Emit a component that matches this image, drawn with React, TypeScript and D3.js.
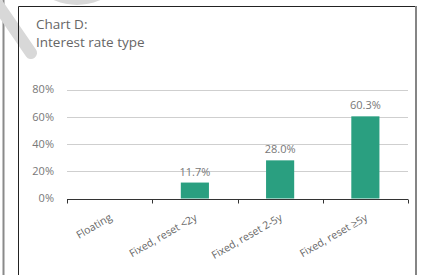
import React, { useEffect, useRef } from "react";
import * as d3 from "d3";

const categories = ["Floating", "Fixed, reset <2y", "Fixed, reset 2-5y", "Fixed, reset \u22655y"];
const shares = [0, 11.7, 28.0, 60.3];
const yTicks = [0, 20, 40, 60, 80];
const titleLines = ["Chart D:", "Interest rate type"];

const width = 422;
const height = 275;
const margin = { top: 89.5, right: 13, bottom: 76.5, left: 67 };
const font = "'Open Sans', 'Noto Sans', sans-serif";

function App() {
  const ref = useRef<SVGSVGElement>(null);

  useEffect(() => {
    const svg = d3.select(ref.current);
    svg.selectAll("*").remove();

    // leftovers from the page around the chart
    svg
      .append("circle")
      .attr("cx", 77)
      .attr("cy", -52.7)
      .attr("r", 57.7)
      .attr("fill", "#d8d8d8");
    svg
      .append("line")
      .attr("x1", 3.5)
      .attr("x2", 3.5)
      .attr("y1", 0)
      .attr("y2", height)
      .attr("stroke", "#8a8a8a")
      .attr("stroke-width", 2);
    svg
      .append("line")
      .attr("x1", -2)
      .attr("y1", 5)
      .attr("x2", 31)
      .attr("y2", 53)
      .attr("stroke", "#d8d8d8")
      .attr("stroke-width", 12)
      .attr("stroke-linecap", "round");

    // frame
    svg
      .append("path")
      .attr("d", `M18.5,${height}V6.5H415`)
      .attr("fill", "none")
      .attr("stroke", "#222")
      .attr("stroke-width", 1);
    svg
      .append("line")
      .attr("x1", 416)
      .attr("x2", 416)
      .attr("y1", 6)
      .attr("y2", height)
      .attr("stroke", "#858585")
      .attr("stroke-width", 2);

    svg
      .append("g")
      .selectAll("text")
      .data(titleLines)
      .join("text")
      .attr("x", 36)
      .attr("y", (d, i) => 29 + i * 18)
      .attr("font-family", font)
      .attr("font-size", 13.5)
      .attr("fill", "#666")
      .text((d) => d);

    const x = d3
      .scaleBand()
      .domain(categories)
      .range([margin.left, width - margin.right - 1])
      .padding(0);

    const y = d3
      .scaleLinear()
      .domain([0, 80])
      .range([height - margin.bottom, margin.top]);

    // grid + y labels
    const grid = svg.append("g");
    grid
      .selectAll("line")
      .data(yTicks.filter((t) => t > 0))
      .join("line")
      .attr("x1", margin.left)
      .attr("x2", width - margin.right - 1)
      .attr("y1", (d) => Math.round(y(d)) + 0.5)
      .attr("y2", (d) => Math.round(y(d)) + 0.5)
      .attr("stroke", "#cfcfcf");
    grid
      .selectAll("text")
      .data(yTicks)
      .join("text")
      .attr("x", 54)
      .attr("y", (d) => y(d))
      .attr("dy", "0.36em")
      .attr("text-anchor", "end")
      .attr("font-family", font)
      .attr("font-size", 11)
      .attr("fill", "#777")
      .text((d) => `${d}%`);

    // bars
    const barW = x.bandwidth() * 0.33;
    svg
      .append("g")
      .attr("fill", "#2a9f80")
      .selectAll("rect")
      .data(shares)
      .join("rect")
      .attr("x", (d, i) => x(categories[i])! + (x.bandwidth() - barW) / 2)
      .attr("width", barW)
      .attr("y", (d) => y(d))
      .attr("height", (d) => y(0) - y(d));

    svg
      .append("g")
      .selectAll("text")
      .data(shares.map((v, i) => ({ v, c: categories[i] })).filter((d) => d.v > 0))
      .join("text")
      .attr("x", (d) => x(d.c)! + x.bandwidth() / 2)
      .attr("y", (d) => y(d.v) - 7)
      .attr("text-anchor", "middle")
      .attr("font-family", font)
      .attr("font-size", 11)
      .attr("fill", "#777")
      .text((d) => `${d.v.toFixed(1)}%`);

    // x axis
    const y0 = Math.round(y(0)) + 0.5;
    const xAxis = svg.append("g");
    xAxis
      .append("line")
      .attr("x1", margin.left)
      .attr("x2", width - margin.right - 1)
      .attr("y1", y0)
      .attr("y2", y0)
      .attr("stroke", "#333");
    const edges = categories.map((c) => x(c)!).concat([x.range()[1]]);
    xAxis
      .selectAll(".tick")
      .data(edges)
      .join("line")
      .attr("class", "tick")
      .attr("x1", (d) => Math.round(d) + 0.5)
      .attr("x2", (d) => Math.round(d) + 0.5)
      .attr("y1", y0)
      .attr("y2", y0 + 4)
      .attr("stroke", "#333");
    xAxis
      .selectAll(".lbl")
      .data(categories)
      .join("text")
      .attr("class", "lbl")
      .attr("text-anchor", "end")
      .attr(
        "transform",
        (d) => `translate(${x(d)! + x.bandwidth() / 2 + 3},${y0 + 20}) rotate(-30)`
      )
      .attr("font-family", font)
      .attr("font-size", 10.5)
      .attr("fill", "#666")
      .text((d) => d);
  }, []);

  return (
    <svg
      ref={ref}
      width={width}
      height={height}
      style={{ position: "absolute", left: 0, top: 0, background: "#fff" }}
    />
  );
}

export default App;
